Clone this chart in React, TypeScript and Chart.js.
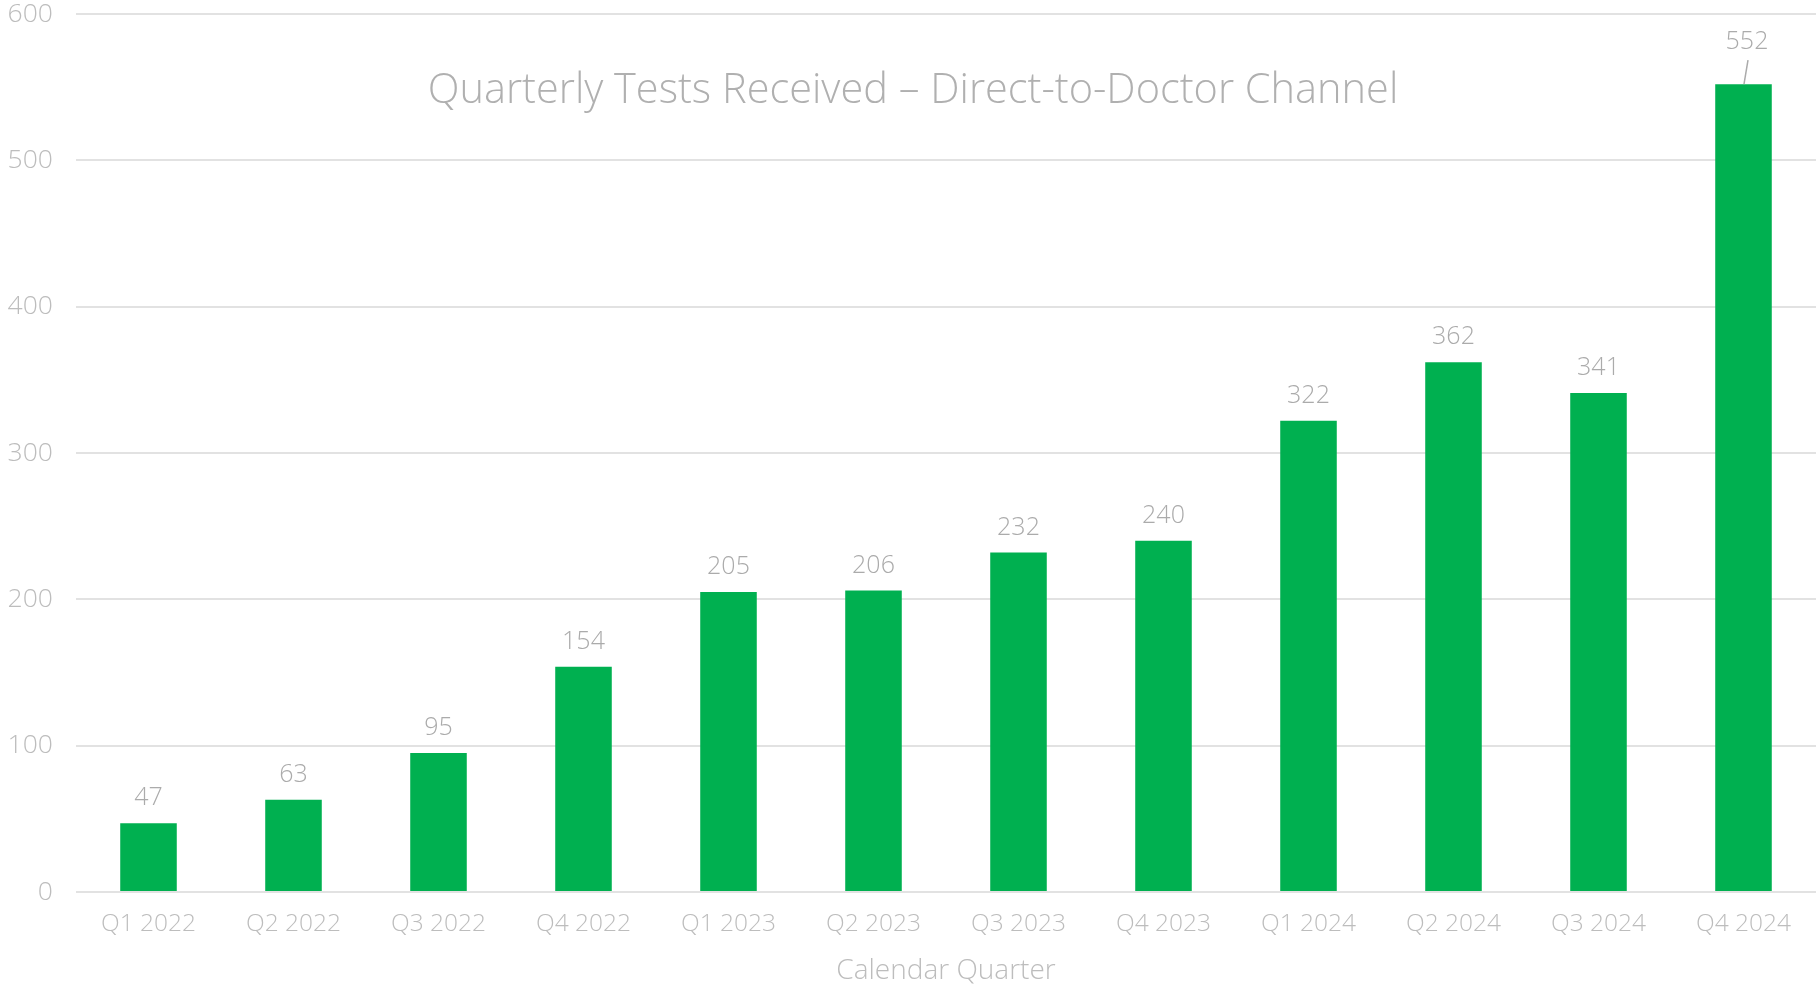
import React, { useEffect, useRef } from "react";
import { Chart, registerables } from "chart.js";

Chart.register(...registerables);

const categories = [
  "Q1 2022", "Q2 2022", "Q3 2022", "Q4 2022",
  "Q1 2023", "Q2 2023", "Q3 2023", "Q4 2023",
  "Q1 2024", "Q2 2024", "Q3 2024", "Q4 2024",
];
const testsReceived = [47, 63, 95, 154, 205, 206, 232, 240, 322, 362, 341, 552];
const yTicks = [0, 100, 200, 300, 400, 500, 600];
const chartTitle = "Quarterly Tests Received \u2013 Direct-to-Doctor Channel";
const xAxisTitle = "Calendar Quarter";

const FONT = "'Open Sans', 'DejaVu Sans', sans-serif";
const BAR_COLOR = "#00b050";
const LABEL_COLOR = "#ababab";
const TICK_COLOR = "#bdbdbd";
const GRID_COLOR = "#e2e2e2";

const overlayPlugin = {
  id: "overlay",
  afterDatasetsDraw(chart: any) {
    const ctx = chart.ctx;
    const meta = chart.getDatasetMeta(0);
    const data = chart.data.datasets[0].data as number[];
    ctx.save();
    ctx.font = `300 25px ${FONT}`;
    ctx.fillStyle = LABEL_COLOR;
    ctx.textAlign = "center";
    ctx.textBaseline = "middle";
    const lifted = data.length - 1;
    meta.data.forEach((el: any, i: number) => {
      const txt = String(data[i]);
      if (i === lifted) {
        const ly = el.y - 42;
        ctx.fillText(txt, el.x + 3.5, ly);
        ctx.strokeStyle = LABEL_COLOR;
        ctx.lineWidth = 1.5;
        ctx.beginPath();
        ctx.moveTo(el.x + 4.5, ly + 18);
        ctx.lineTo(el.x + 0.5, el.y);
        ctx.stroke();
      } else {
        ctx.fillText(txt, el.x, el.y - 25);
      }
    });
    // title overlaid on plot
    ctx.font = `300 41.5px ${FONT}`;
    ctx.fillStyle = "#b0b0b0";
    ctx.fillText(chartTitle, chart.width / 2 + 5, 91);
    ctx.restore();
  },
};

export default function App() {
  const ref = useRef<HTMLCanvasElement | null>(null);
  useEffect(() => {
    document.body.style.margin = "0";
    document.body.style.overflow = "hidden";
    const canvas = ref.current!;
    const chart = new Chart(canvas, {
      type: "bar",
      data: {
        labels: categories,
        datasets: [
          {
            data: testsReceived,
            backgroundColor: BAR_COLOR,
            borderWidth: 0,
            barPercentage: 0.39,
            categoryPercentage: 1,
          },
        ],
      },
      plugins: [overlayPlugin],
      options: {
        responsive: false,
        animation: false,
        layout: { padding: 0 },
        plugins: {
          legend: { display: false },
          tooltip: { enabled: false },
          title: { display: false },
        },
        scales: {
          x: {
            grid: { display: false, drawTicks: false },
            border: { display: false },
            ticks: {
              color: TICK_COLOR,
              font: { family: FONT, size: 24.5, weight: "300" as any },
              padding: 17,
              maxRotation: 0,
              autoSkip: false,
            },
            title: {
              display: true,
              text: xAxisTitle,
              color: TICK_COLOR,
              font: { family: FONT, size: 28, weight: "300" as any, lineHeight: 1 },
              padding: { top: 0, bottom: 0 },
            },
            afterFit(scale: any) {
              scale.height = 93;
              scale.paddingLeft = 0;
              scale.paddingRight = 0;
            },
          },
          y: {
            min: yTicks[0],
            max: yTicks[yTicks.length - 1],
            afterBuildTicks(scale: any) {
              scale.ticks = yTicks.map((v) => ({ value: v }));
            },
            grid: { color: GRID_COLOR, lineWidth: 2, drawTicks: false },
            border: { display: false },
            ticks: {
              color: TICK_COLOR,
              font: { family: FONT, size: 26.5, weight: "300" as any },
              padding: 23,
            },
            afterFit(scale: any) {
              scale.width = 76;
              scale.paddingTop = 14;
              scale.paddingBottom = 0;
            },
          },
        },
      },
    });
    return () => chart.destroy();
  }, []);
  return (
    <div style={{ width: 1816, height: 985, background: "#fff" }}>
      <canvas ref={ref} width={1816} height={985} />
    </div>
  );
}
